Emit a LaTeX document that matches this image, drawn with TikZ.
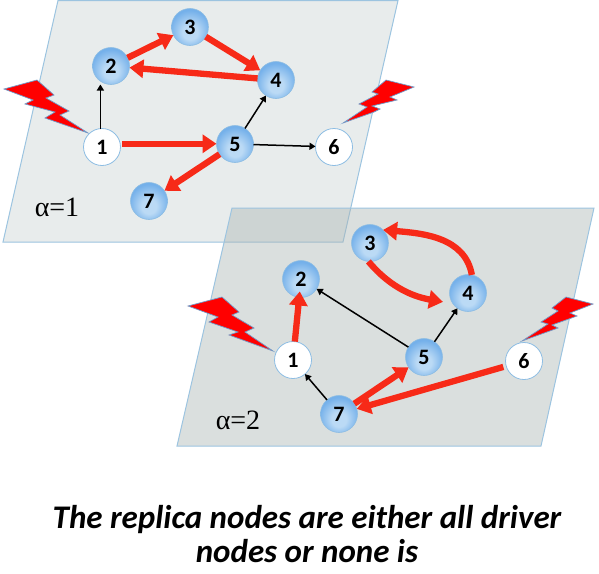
\documentclass[tikz,border=0pt]{standalone}
\usepackage{fontspec}
\setmainfont{Carlito}
\newfontfamily\alphafont{Liberation Serif}
\usetikzlibrary{arrows.meta,calc}
\definecolor{ballin}{HTML}{BBDAF5}
\definecolor{ballout}{HTML}{74B0EA}
\pgfdeclareradialshading{ballshade}{\pgfpoint{0bp}{-9bp}}{
  color(0bp)=(ballin); color(10bp)=(ballin); color(27bp)=(ballout); color(50bp)=(ballout)}
\definecolor{planeedge}{HTML}{9CC4E0}
\definecolor{planeone}{HTML}{E8ECEC}
\definecolor{planetwo}{HTML}{AAB5B3}
\definecolor{redarrow}{HTML}{F72A18}
\definecolor{nodeedge}{HTML}{8DBDE3}
\definecolor{boltedge}{HTML}{6F9CCB}
\tikzset{
  x=1pt,y=-1pt,
  basenode/.style={circle,minimum size=37pt,inner sep=0pt,outer sep=0pt,font=\fontsize{22}{24}\selectfont\bfseries,text=black},
  driven/.style={basenode,draw=nodeedge,line width=.6pt,shading=ballshade},
  driver/.style={basenode,draw=nodeedge,line width=.8pt,fill=white},
  plane/.style={draw=planeedge,line width=1pt,line join=miter},
  redlink/.style={draw=redarrow,line width=6.3pt,-{Triangle[length=14pt,width=18pt]}},
  blacklink/.style={draw=black,line width=1.5pt,-{Triangle[length=6pt,width=7pt]}},
  bolt/.style={fill=red,draw=boltedge,line width=.7pt,line join=miter},
  planelabel/.style={inner sep=0pt,font=\alphafont\fontsize{28}{30}\selectfont},
  caption/.style={inner sep=0pt,align=center,font=\fontsize{33}{34}\selectfont\bfseries\itshape}
}
\begin{document}
\begin{tikzpicture}
\useasboundingbox (0,0) rectangle (599,573);
% planes
\path[plane,fill=planeone] (58,0.5) -- (398,0.5) -- (343,242) -- (3,242) -- cycle;
\path[fill=planetwo,fill opacity=.435] (232,208) -- (594,208) -- (541,446) -- (177,446) -- cycle;
\path[plane] (232,208) -- (594,208) -- (541,446) -- (177,446) -- cycle;
% bolts
\path[bolt] (4,89) -- (37,80) -- (54,95) -- (46,98) -- (69,111) -- (60,115) -- (88,133) -- (45,118) -- (55,112) -- (25,104) -- (33,100) -- cycle;
\path[bolt] (414,87) -- (386,80) -- (372,92) -- (378,94) -- (359,104) -- (367,107) -- (343,123) -- (374,112) -- (380,109) -- (372,106) -- (397,100) -- (390,97) -- cycle;
\path[bolt] (188,306) -- (222,297) -- (239,312) -- (232,315) -- (254,328) -- (245,332) -- (273,351) -- (229,335) -- (238,332) -- (209,322) -- (218,317) -- cycle;
\path[bolt] (593,304) -- (566,297) -- (552,308) -- (558,311) -- (541,322) -- (548,324) -- (522,341) -- (558,328) -- (552,325) -- (577,316) -- (570,313) -- cycle;
% upper layer
\node[driver] (a1) at (102,147) {1};
\node[driven] (a2) at (111,66) {2};
\node[driven] (a3) at (190,27) {3};
\node[driven] (a4) at (276,80) {4};
\node[driven] (a5) at (235,144) {5};
\node[driver] (a6) at (334,147) {6};
\node[driven] (a7) at (149,201) {7};
\draw[blacklink] (a1.95) -- (a1.95 |- a2.south);
\draw[blacklink] (a5) -- (a4);
\draw[blacklink] (a5) -- (a6);
\draw[redlink,shorten <=2pt] (a1.10) -- (a1.10 -| a5.west);
\draw[redlink] (a2) -- (a3);
\draw[redlink] (a3) -- (a4);
\draw[redlink] (a4) -- (a2);
\draw[redlink] (a5) -- (a7);
\node[planelabel] (la) at (57,207) {α=1};
% lower layer
\node[driver] (b1) at (293,360) {1};
\node[driven] (b2) at (301,279) {2};
\node[driven] (b3) at (370,243) {3};
\node[driven] (b4) at (468,293) {4};
\node[driven] (b5) at (424,357) {5};
\node[driver] (b6) at (524,361) {6};
\node[driven] (b7) at (339,414) {7};
\draw[blacklink] (b5) -- (b2);
\draw[blacklink] (b5) -- (b4);
\draw[blacklink] (b7) -- (b1);
\draw[redlink,shorten >=-6pt] (b1) -- (b2);
\draw[redlink] (b7) -- (b5);
\draw[redlink,shorten <=3pt] (b6) -- (b7);
\draw[redlink] (b4.78) to[out=100,in=-5] (b3.45);
\draw[redlink,shorten >=10pt] (b3.-95) to[out=-50,in=170] (b4.215);
\node[planelabel] (lb) at (238,420) {α=2};
% caption
\node[caption] (cap) at (307,534) {The replica nodes are either all driver\\nodes or none is};
\end{tikzpicture}
\end{document}
